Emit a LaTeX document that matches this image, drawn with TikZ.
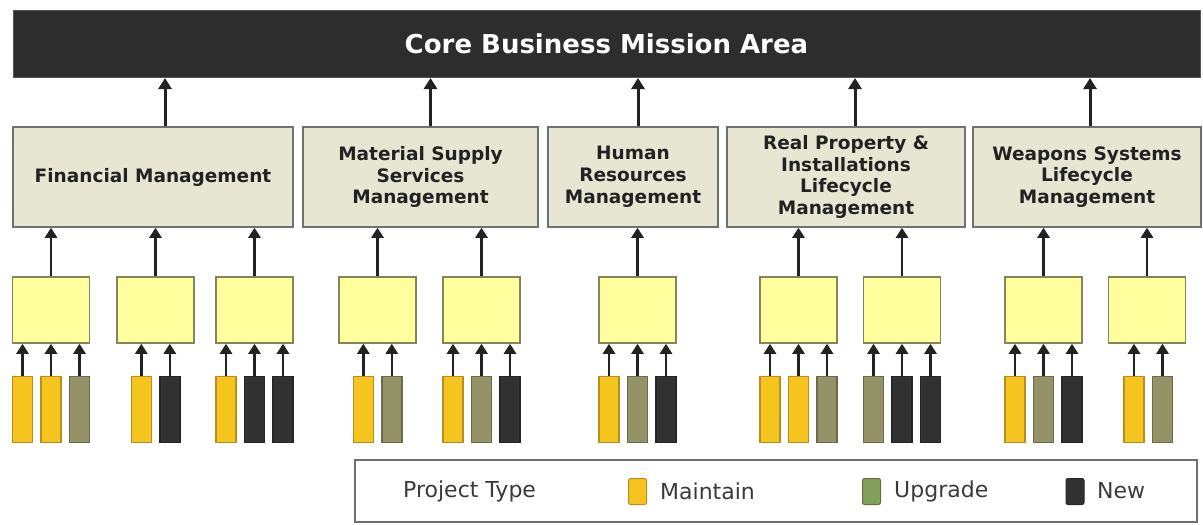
\documentclass[tikz,border=0pt]{standalone}
\usepackage{fontspec}
\setmainfont{DejaVu Sans}
\usetikzlibrary{arrows.meta}

\definecolor{coredark}{HTML}{2D2D2D}
\definecolor{catfill}{HTML}{E6E6D2}
\definecolor{catline}{HTML}{707070}
\definecolor{projfill}{HTML}{FFFF9E}
\definecolor{projline}{HTML}{85855C}
\definecolor{maintfill}{HTML}{F6C41E}
\definecolor{maintline}{HTML}{B88E1C}
\definecolor{upgfill}{HTML}{939367}
\definecolor{upgline}{HTML}{6B6B4C}
\definecolor{newfill}{HTML}{323232}
\definecolor{arrowcol}{HTML}{222222}
\definecolor{legtext}{HTML}{3A3A3A}

\tikzset{
  bigarr/.style={-{Triangle[width=13pt,length=11pt]}, line width=3pt, draw=arrowcol},
  smallarr/.style={-{Triangle[width=12pt,length=10pt]}, line width=2.6pt, draw=arrowcol},
  bar/.style={rectangle, draw, line width=1.5pt, minimum width=20, minimum height=66, inner sep=0pt},
  maint/.style={bar, fill=maintfill, draw=maintline},
  upg/.style={bar, fill=upgfill, draw=upgline},
  newbar/.style={bar, fill=newfill, draw=black!85},
  swatch/.style={rectangle, rounded corners=2pt, line width=1pt, minimum width=18, minimum height=26, inner sep=0pt},
  legend text/.style={anchor=west, inner sep=0pt, text=legtext, font=\fontsize{22}{26}\selectfont}
}

\begin{document}
\begin{tikzpicture}[x=1pt,y=-1pt]

        \useasboundingbox (0,0) rectangle (1203,525);

        \node[fill=coredark, draw=coredark!80, line width=1pt, minimum width=1187, minimum height=67,
              text=white, font=\bfseries\fontsize{26}{30}\selectfont] (top) at (606.5,44) {Core Business Mission Area};

        % areas
        \begin{scope}[every node/.style={rectangle, draw=catline, fill=catfill, line width=1.5pt,
              minimum height=100, align=center, text=arrowcol, font=\bfseries\fontsize{18.5}{21.8}\selectfont}]
          \node[minimum width=280] (c1) at (153,177)    {Financial Management};
          \node[minimum width=235] (c2) at (420.5,177)  {Material Supply\\Services\\Management};
          \node[minimum width=170] (c3) at (633,177)    {Human\\Resources\\Management};
          \node[minimum width=238] (c4) at (846,177)    {Real Property \&\\Installations\\Lifecycle\\Management};
          \node[minimum width=228] (c5) at (1087,177)   {Weapons Systems\\Lifecycle\\Management};
        \end{scope}

        \draw[bigarr] ([xshift=12]c1.north) -- ([xshift=12]c1.north |- top.south);
        \draw[bigarr] ([xshift=10]c2.north) -- ([xshift=10]c2.north |- top.south);
        \draw[bigarr] ([xshift=5]c3.north)  -- ([xshift=5]c3.north |- top.south);
        \draw[bigarr] ([xshift=9]c4.north)  -- ([xshift=9]c4.north |- top.south);
        \draw[bigarr] ([xshift=3]c5.north)  -- ([xshift=3]c5.north |- top.south);

        % projects
        \begin{scope}[every node/.style={rectangle, draw=projline, fill=projfill, line width=1.5pt,
              minimum width=77, minimum height=66}]
          \node (p1)  at (51,310)     {};
          \node (p2)  at (155.5,310)  {};
          \node (p3)  at (254.5,310)  {};
          \node (p4)  at (377.5,310)  {};
          \node (p5)  at (481.5,310)  {};
          \node (p6)  at (637.5,310)  {};
          \node (p7)  at (798.5,310)  {};
          \node (p8)  at (902,310)    {};
          \node (p9)  at (1043.5,310) {};
          \node (p10) at (1147,310)   {};
        \end{scope}

        \begin{scope}[every edge/.style={draw, smallarr}]
          \path (p1)  edge (p1 |- c1.south);
          \path (p2)  edge (p2 |- c1.south);
          \path (p3)  edge (p3 |- c1.south);
          \path (p4)  edge (p4 |- c2.south);
          \path (p5)  edge (p5 |- c2.south);
          \path (p6)  edge (p6 |- c3.south);
          \path (p7)  edge (p7 |- c4.south);
          \path (p8)  edge (p8 |- c4.south);
          \path (p9)  edge (p9 |- c5.south);
          \path (p10) edge (p10 |- c5.south);
        \end{scope}

        % project types
        \node[maint]  (p1a)  at (22.5,409.5)   {};
        \node[maint]  (p1b)  at (51,409.5)     {};
        \node[upg]    (p1c)  at (79.5,409.5)   {};
        \node[maint]  (p2a)  at (141.3,409.5)  {};
        \node[newbar] (p2b)  at (169.8,409.5)  {};
        \node[maint]  (p3a)  at (226,409.5)    {};
        \node[newbar] (p3b)  at (254.5,409.5)  {};
        \node[newbar] (p3c)  at (283,409.5)    {};
        \node[maint]  (p4a)  at (363.3,409.5)  {};
        \node[upg]    (p4b)  at (391.8,409.5)  {};
        \node[maint]  (p5a)  at (453,409.5)    {};
        \node[upg]    (p5b)  at (481.5,409.5)  {};
        \node[newbar] (p5c)  at (510,409.5)    {};
        \node[maint]  (p6a)  at (609,409.5)    {};
        \node[upg]    (p6b)  at (637.5,409.5)  {};
        \node[newbar] (p6c)  at (666,409.5)    {};
        \node[maint]  (p7a)  at (770,409.5)    {};
        \node[maint]  (p7b)  at (798.5,409.5)  {};
        \node[upg]    (p7c)  at (827,409.5)    {};
        \node[upg]    (p8a)  at (873.5,409.5)  {};
        \node[newbar] (p8b)  at (902,409.5)    {};
        \node[newbar] (p8c)  at (930.5,409.5)  {};
        \node[maint]  (p9a)  at (1015,409.5)   {};
        \node[upg]    (p9b)  at (1043.5,409.5) {};
        \node[newbar] (p9c)  at (1072,409.5)   {};
        \node[maint]  (p10a) at (1134,409.5)   {};
        \node[upg]    (p10b) at (1162.5,409.5) {};

        \begin{scope}[every edge/.style={draw, smallarr}]
          \path (p1a)  edge (p1a |- p1.south);
          \path (p1b)  edge (p1b |- p1.south);
          \path (p1c)  edge (p1c |- p1.south);
          \path (p2a)  edge (p2a |- p2.south);
          \path (p2b)  edge (p2b |- p2.south);
          \path (p3a)  edge (p3a |- p3.south);
          \path (p3b)  edge (p3b |- p3.south);
          \path (p3c)  edge (p3c |- p3.south);
          \path (p4a)  edge (p4a |- p4.south);
          \path (p4b)  edge (p4b |- p4.south);
          \path (p5a)  edge (p5a |- p5.south);
          \path (p5b)  edge (p5b |- p5.south);
          \path (p5c)  edge (p5c |- p5.south);
          \path (p6a)  edge (p6a |- p6.south);
          \path (p6b)  edge (p6b |- p6.south);
          \path (p6c)  edge (p6c |- p6.south);
          \path (p7a)  edge (p7a |- p7.south);
          \path (p7b)  edge (p7b |- p7.south);
          \path (p7c)  edge (p7c |- p7.south);
          \path (p8a)  edge (p8a |- p8.south);
          \path (p8b)  edge (p8b |- p8.south);
          \path (p8c)  edge (p8c |- p8.south);
          \path (p9a)  edge (p9a |- p9.south);
          \path (p9b)  edge (p9b |- p9.south);
          \path (p9c)  edge (p9c |- p9.south);
          \path (p10a) edge (p10a |- p10.south);
          \path (p10b) edge (p10b |- p10.south);
        \end{scope}

        % legend
        \node[draw=catline, line width=1.5pt, minimum width=842, minimum height=62] (legend) at (776,491) {};
        \node[legend text] (ptype) at (403,491) {Project Type};
        \node[swatch, fill=maintfill, draw=maintline] (smaint) at (637.5,491.5) {};
        \node[legend text] (tmaint) at (660,491) {Maintain};
        \node[swatch, fill=upgfill!80!green!60!upgfill, draw=upgline] (supg) at (871.5,491.5) {};
        \node[legend text] (tupg) at (894,491) {Upgrade};
        \node[swatch, fill=newfill, draw=black!85] (snew) at (1075,491.5) {};
        \node[legend text] (tnew) at (1097,491) {New};

      \end{tikzpicture}
\end{document}
